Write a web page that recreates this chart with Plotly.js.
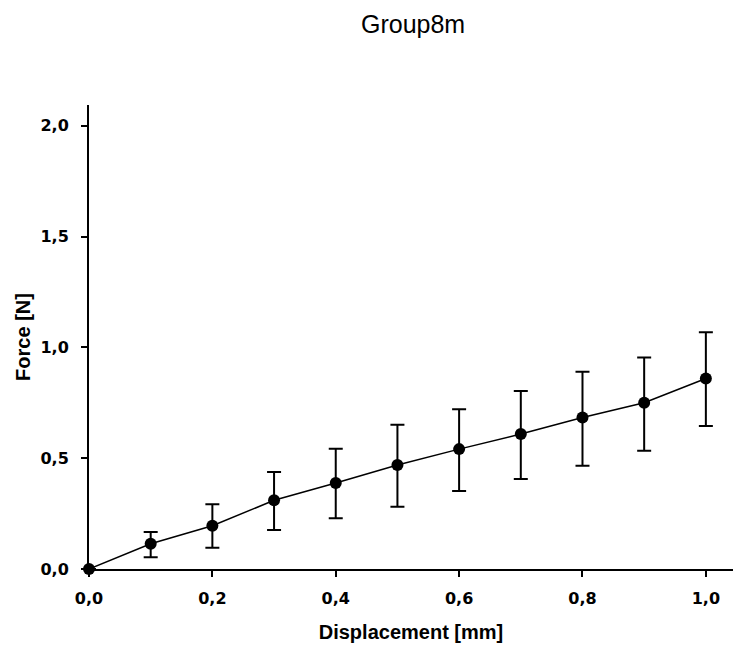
<!DOCTYPE html>
<html>
<head>
<meta charset="utf-8">
<script src="https://cdn.plot.ly/plotly-3.0.1.min.js"></script>
<style>html,body{margin:0;padding:0;background:#fff;}#chart{width:739px;height:649px;}</style>
</head>
<body>
<div id="chart"></div>
<script>
const displacement = [0.0, 0.1, 0.2, 0.3, 0.4, 0.5, 0.6, 0.7, 0.8, 0.9, 1.0];
const forceMean    = [0.0, 0.114, 0.195, 0.310, 0.388, 0.469, 0.541, 0.609, 0.684, 0.750, 0.860];
const errUpper     = [0.0, 0.053, 0.097, 0.128, 0.155, 0.182, 0.180, 0.194, 0.206, 0.205, 0.208];
const errLower     = [0.0, 0.061, 0.099, 0.134, 0.159, 0.188, 0.189, 0.203, 0.218, 0.216, 0.215];
const xTickVals = [0, 0.2, 0.4, 0.6, 0.8, 1.0];
const yTickVals = [0, 0.5, 1.0, 1.5, 2.0];

const trace = {
  x: displacement,
  y: forceMean,
  type: 'scatter',
  mode: 'lines+markers',
  line: {color: '#000', width: 1.5},
  marker: {color: '#000', size: 12},
  cliponaxis: false,
  error_y: {
    type: 'data', symmetric: false,
    array: errUpper, arrayminus: errLower,
    color: '#000', thickness: 2, width: 7
  }
};

const tickFont = {family: '"DejaVu Sans", sans-serif', size: 16, color: '#000', weight: 'bold'};
const titleFont = {family: 'Arial, "Liberation Sans", sans-serif', size: 20, color: '#000', weight: 'bold'};
const layout = {
  width: 739, height: 649,
  margin: {l: 89, r: 6, t: 105, b: 80},
  paper_bgcolor: '#fff', plot_bgcolor: '#fff',
  separators: ',.',
  showlegend: false,
  title: {
    text: 'Group8m',
    font: {family: 'Arial, "Liberation Sans", sans-serif', size: 25, color: '#000'},
    x: 0.559, xanchor: 'center', y: 0.962, yanchor: 'middle'
  },
  xaxis: {
    range: [0, 1.044],
    tickvals: xTickVals,
    tickformat: '.1f',
    showgrid: false, zeroline: false,
    showline: true, linecolor: '#000', linewidth: 2,
    ticks: 'outside', ticklen: 6, tickwidth: 2, tickcolor: '#000',
    ticklabelstandoff: 8,
    tickfont: tickFont,
    title: {text: 'Displacement [mm]', font: titleFont, standoff: 18}
  },
  yaxis: {
    range: [0, 2.094],
    tickvals: yTickVals,
    tickformat: '.1f',
    showgrid: false, zeroline: false,
    showline: true, linecolor: '#000', linewidth: 2,
    ticks: 'outside', ticklen: 6, tickwidth: 2, tickcolor: '#000',
    ticklabelstandoff: 9,
    tickfont: tickFont,
    title: {text: 'Force [N]', font: titleFont, standoff: 4}
  }
};

Plotly.newPlot('chart', [trace], layout, {displayModeBar: false, staticPlot: true});
</script>
</body>
</html>
